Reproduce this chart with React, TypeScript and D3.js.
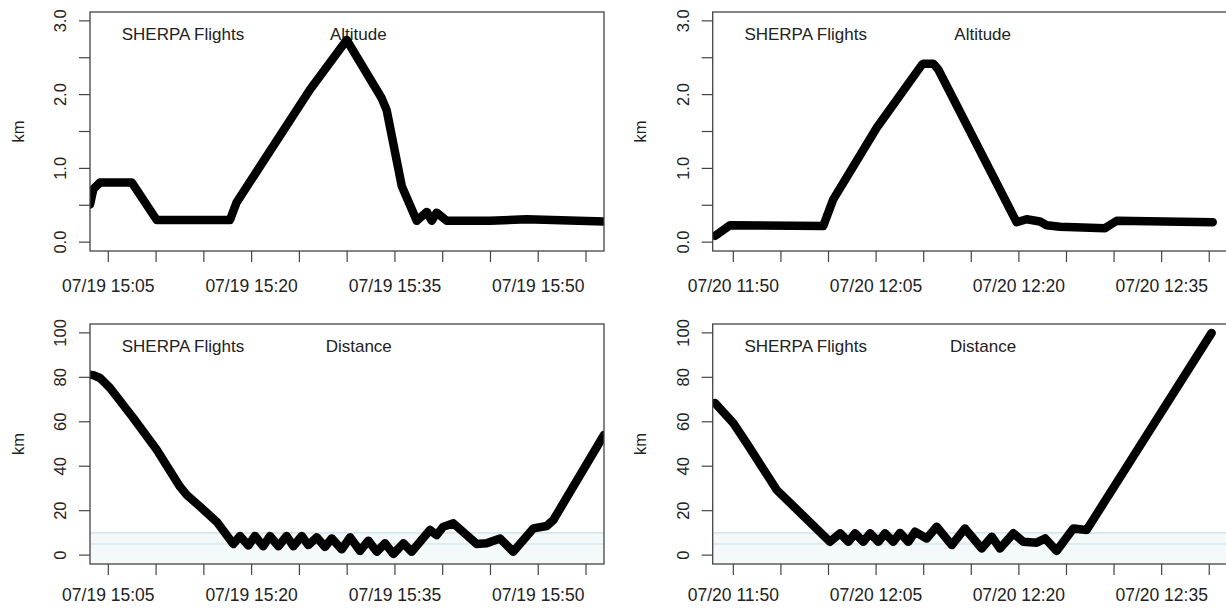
import React from "react";
import * as d3 from "d3";

// ---- data -------------------------------------------------------------
const parseTime = d3.timeParse("%m/%d %H:%M:%S");

const DAY_1 = "07/19";
const DAY_2 = "07/20";

const XLIM_DAY_1 = ["15:03:05", "15:56:53"];
const XLIM_DAY_2 = ["11:47:50", "12:41:50"];

// Altitude (km), 07/19
const ALT_1_TIME = [
  "15:03:05", "15:03:26", "15:04:08", "15:07:27", "15:10:04", "15:17:44",
  "15:18:26", "15:26:07", "15:29:57", "15:33:37", "15:34:08", "15:35:43",
  "15:37:17", "15:38:20", "15:38:51", "15:39:22", "15:40:25", "15:44:57",
  "15:48:48", "15:56:53",
];
const ALT_1_KM = [
  0.51, 0.72, 0.81, 0.81, 0.3, 0.3,
  0.54, 2.07, 2.74, 1.95, 1.79, 0.76,
  0.29, 0.41, 0.29, 0.4, 0.29, 0.29,
  0.31, 0.28,
];

// Distance (km), 07/19
const DIST_1_TIME = [
  "15:03:05", "15:03:26", "15:04:08", "15:05:11", "15:07:37", "15:10:04",
  "15:12:30", "15:13:12", "15:14:36", "15:16:21", "15:18:05", "15:18:47",
  "15:19:39", "15:20:21", "15:21:13", "15:21:55", "15:22:48", "15:23:40",
  "15:24:22", "15:25:15", "15:25:56", "15:26:49", "15:27:41", "15:28:23",
  "15:29:26", "15:30:18", "15:31:21", "15:32:13", "15:33:06", "15:33:58",
  "15:34:50", "15:35:53", "15:36:45", "15:38:40", "15:39:22", "15:40:04",
  "15:41:07", "15:42:31", "15:43:34", "15:44:36", "15:46:00", "15:47:23",
  "15:49:29", "15:50:53", "15:51:35", "15:56:53",
];
const DIST_1_KM = [
  81.2, 81.0, 79.7, 75.2, 61.7, 47.4,
  30.8, 27.1, 21.8, 15.0, 5.0, 8.6,
  4.3, 8.6, 4.0, 8.6, 4.0, 8.6,
  4.0, 8.6, 4.5, 8.0, 3.7, 7.5,
  2.6, 8.0, 1.9, 6.5, 1.5, 5.3,
  0.5, 5.3, 1.5, 11.3, 9.0, 12.8,
  14.3, 9.0, 5.0, 5.3, 7.5, 1.5,
  12.0, 13.1, 15.8, 54.1,
];

// Altitude (km), 07/20
const ALT_2_TIME = [
  "11:48:05", "11:49:39", "11:59:27", "12:00:30", "12:05:04", "12:09:47",
  "12:09:58", "12:11:01", "12:11:32", "12:19:46", "12:20:49", "12:22:13",
  "12:22:55", "12:24:19", "12:29:03", "12:30:17", "12:40:22",
];
const ALT_2_KM = [
  0.085, 0.23, 0.22, 0.58, 1.55, 2.4,
  2.42, 2.42, 2.34, 0.27, 0.31, 0.28,
  0.23, 0.21, 0.19, 0.29, 0.27,
];

// Distance (km), 07/20
const DIST_2_TIME = [
  "11:48:05", "11:50:00", "11:51:24", "11:54:34", "12:00:09", "12:01:13",
  "12:02:05", "12:02:47", "12:03:39", "12:04:22", "12:05:14", "12:05:56",
  "12:06:48", "12:07:31", "12:08:23", "12:09:05", "12:10:19", "12:11:22",
  "12:12:57", "12:14:20", "12:16:06", "12:17:09", "12:18:01", "12:19:25",
  "12:20:28", "12:21:52", "12:22:45", "12:23:58", "12:25:43", "12:27:07",
  "12:40:15",
];
const DIST_2_KM = [
  68.4, 59.4, 50.4, 29.3, 6.0, 9.8,
  6.0, 9.8, 6.0, 9.8, 6.0, 9.8,
  6.0, 10.0, 6.0, 10.5, 7.5, 12.8,
  4.5, 12.0, 3.0, 8.3, 3.0, 9.8,
  6.0, 5.6, 7.5, 1.9, 12.0, 11.3,
  100,
];

const ALT_YLIM = [0, 3];
const ALT_TICKS = [0, 0.5, 1, 1.5, 2, 2.5, 3];
const ALT_LABELED = [0, 1, 2, 3];
const DIST_YLIM = [0, 100];
const DIST_TICKS = [0, 20, 40, 60, 80, 100];
const DIST_LABELED = [0, 20, 40, 60, 80, 100];
const DIST_REF_LINES = [5, 10];

const TITLE = "SHERPA Flights";
const Y_TITLE = "km";

// ---- layout -----------------------------------------------------------
const W = 1226;
const H = 612;
const FONT = "'Liberation Sans', Arial, Helvetica, sans-serif";
const FS = 17;
const FS_X = 17.5;
const FS_Y = 16.5;

const COLS = [
  { x0: 90, x1: 604 },
  { x0: 712.7, x1: 1226.7 },
];
const ROWS = [
  { y0: 12, y1: 251, labelDy: 41 },
  { y0: 324, y1: 564, labelDy: 37 },
];

type PanelProps = {
  id: string;
  day: string;
  xlim: string[];
  times: string[];
  values: number[];
  ylim: number[];
  yTicks: number[];
  yLabeled: number[];
  yFormat: (v: number) => string;
  label: string;
  labelDx: number;
  col: { x0: number; x1: number };
  row: { y0: number; y1: number; labelDy: number };
  refLines?: number[];
};

function Panel(p: PanelProps) {
  const { col, row } = p;
  const t0 = parseTime(`${p.day} ${p.xlim[0]}`) as Date;
  const t1 = parseTime(`${p.day} ${p.xlim[1]}`) as Date;
  const x = d3.scaleTime().domain([t0, t1]).range([col.x0, col.x1]);
  const pad = 0.04 * (p.ylim[1] - p.ylim[0]);
  const y = d3
    .scaleLinear()
    .domain([p.ylim[0] - pad, p.ylim[1] + pad])
    .range([row.y1, row.y0]);

  const data = p.times.map((t, i) => ({
    t: parseTime(`${p.day} ${t}`) as Date,
    v: p.values[i],
  }));
  const line = d3
    .line<{ t: Date; v: number }>()
    .x((d) => x(d.t))
    .y((d) => y(d.v));

  const xTicks = d3.timeMinute.every(5)!.range(t0, t1);
  const fmt = d3.timeFormat("%m/%d %H:%M");
  const tickLen = 11;
  const clipId = `clip-${p.id}`;
  const yMid = (row.y0 + row.y1) / 2;

  return (
    <g>
      <defs>
        <clipPath id={clipId}>
          <rect x={col.x0} y={row.y0} width={col.x1 - col.x0} height={row.y1 - row.y0} />
        </clipPath>
      </defs>

      {p.refLines && (
        <g clipPath={`url(#${clipId})`}>
          <rect
            x={col.x0}
            y={y(d3.max(p.refLines)!)}
            width={col.x1 - col.x0}
            height={row.y1 - y(d3.max(p.refLines)!)}
            fill="#f4f9fa"
          />
          {p.refLines.map((r) => (
            <line
              key={r}
              x1={col.x0}
              x2={col.x1}
              y1={y(r)}
              y2={y(r)}
              stroke="#c9dde5"
              strokeWidth={1.2}
            />
          ))}
        </g>
      )}

      {/* annotations sit underneath the trace */}
      <text x={col.x0 + 31.7} y={row.y0 + 27.5} fontSize={FS} fill="#222" fontFamily={FONT}>
        {TITLE}
      </text>
      <text x={col.x0 + p.labelDx} y={row.y0 + 27.5} fontSize={FS} fill="#222" fontFamily={FONT}>
        {p.label}
      </text>

      <path
        d={line(data) || ""}
        fill="none"
        stroke="#000"
        strokeWidth={8.5}
        strokeLinejoin="round"
        strokeLinecap="round"
        clipPath={`url(#${clipId})`}
      />

      {/* frame */}
      <rect
        x={col.x0}
        y={row.y0}
        width={col.x1 - col.x0}
        height={row.y1 - row.y0}
        fill="none"
        stroke="#444"
        strokeWidth={1.3}
      />

      {/* x axis */}
      {xTicks.map((t, i) => (
        <g key={+t}>
          <line x1={x(t)} x2={x(t)} y1={row.y1} y2={row.y1 + tickLen} stroke="#444" strokeWidth={1.2} />
          {i % 3 === 0 && (
            <text
              x={x(t)}
              y={row.y1 + row.labelDy}
              textAnchor="middle"
              fontSize={FS_X}
              fill="#222"
              fontFamily={FONT}
            >
              {fmt(t)}
            </text>
          )}
        </g>
      ))}

      {/* y axis */}
      {p.yTicks.map((v) => (
        <g key={v}>
          <line x1={col.x0 - tickLen} x2={col.x0} y1={y(v)} y2={y(v)} stroke="#444" strokeWidth={1.2} />
          {p.yLabeled.includes(v) && (
            <text
              transform={`translate(${col.x0 - 30},${y(v)}) rotate(-90)`}
              textAnchor="middle"
              dominantBaseline="central"
              fontSize={FS_Y}
              fill="#222"
              fontFamily={FONT}
            >
              {p.yFormat(v)}
            </text>
          )}
        </g>
      ))}
      <text
        transform={`translate(${col.x0 - 72.5},${yMid}) rotate(-90)`}
        textAnchor="middle"
        dominantBaseline="central"
        fontSize={FS_Y}
        fill="#222"
        fontFamily={FONT}
      >
        {Y_TITLE}
      </text>
    </g>
  );
}

export default function App() {
  const altFmt = d3.format(".1f");
  const distFmt = d3.format("d");
  return (
    <svg
      width={W}
      height={H}
      style={{ position: "absolute", left: 0, top: 0, background: "#fff" }}
    >
      <Panel
        id="a1"
        day={DAY_1}
        xlim={XLIM_DAY_1}
        times={ALT_1_TIME}
        values={ALT_1_KM}
        ylim={ALT_YLIM}
        yTicks={ALT_TICKS}
        yLabeled={ALT_LABELED}
        yFormat={altFmt}
        label="Altitude"
        labelDx={240}
        col={COLS[0]}
        row={ROWS[0]}
      />
      <Panel
        id="a2"
        day={DAY_2}
        xlim={XLIM_DAY_2}
        times={ALT_2_TIME}
        values={ALT_2_KM}
        ylim={ALT_YLIM}
        yTicks={ALT_TICKS}
        yLabeled={ALT_LABELED}
        yFormat={altFmt}
        label="Altitude"
        labelDx={241.6}
        col={COLS[1]}
        row={ROWS[0]}
      />
      <Panel
        id="d1"
        day={DAY_1}
        xlim={XLIM_DAY_1}
        times={DIST_1_TIME}
        values={DIST_1_KM}
        ylim={DIST_YLIM}
        yTicks={DIST_TICKS}
        yLabeled={DIST_LABELED}
        yFormat={distFmt}
        label="Distance"
        labelDx={235.7}
        col={COLS[0]}
        row={ROWS[1]}
        refLines={DIST_REF_LINES}
      />
      <Panel
        id="d2"
        day={DAY_2}
        xlim={XLIM_DAY_2}
        times={DIST_2_TIME}
        values={DIST_2_KM}
        ylim={DIST_YLIM}
        yTicks={DIST_TICKS}
        yLabeled={DIST_LABELED}
        yFormat={distFmt}
        label="Distance"
        labelDx={237.3}
        col={COLS[1]}
        row={ROWS[1]}
        refLines={DIST_REF_LINES}
      />
    </svg>
  );
}
